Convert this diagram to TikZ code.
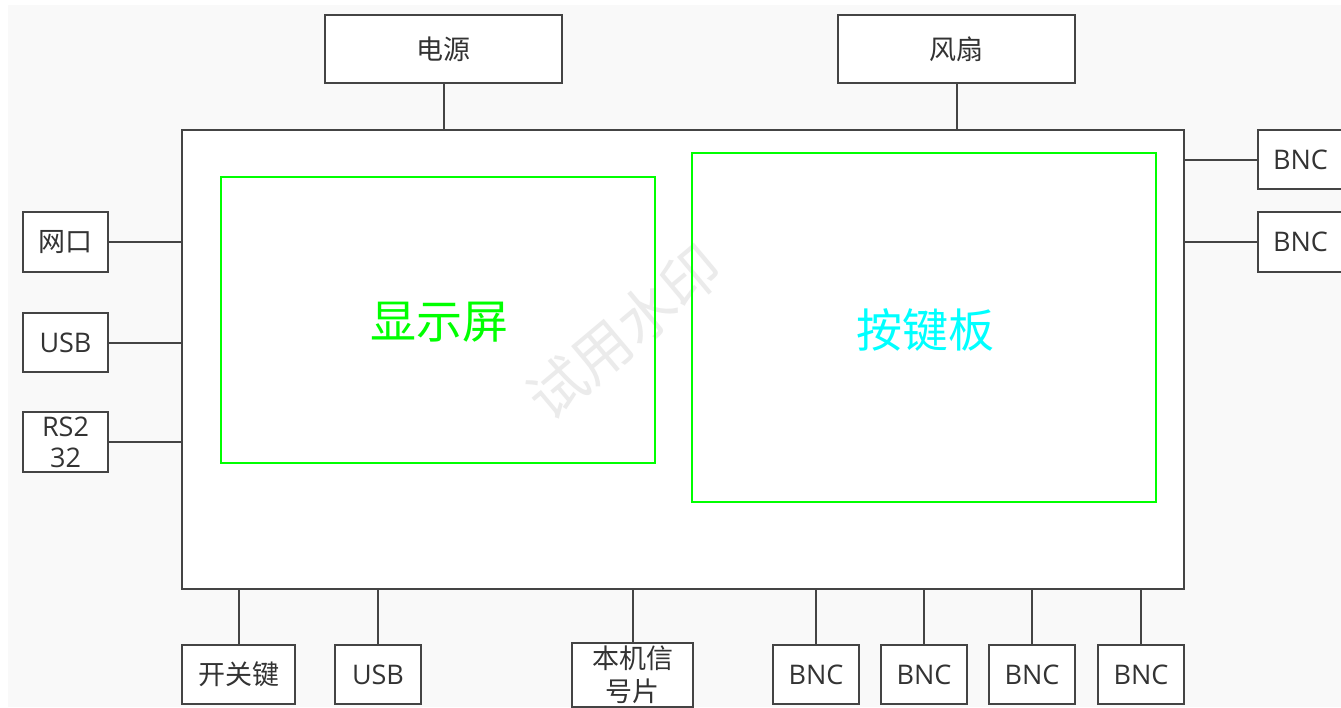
\documentclass[tikz,border=0pt]{standalone}
\usepackage{fontspec}
\setmainfont{Open Sans}
\newfontfamily\cjk{Noto Sans CJK SC}
\definecolor{linegray}{HTML}{444444}
\definecolor{textgray}{HTML}{333333}
\definecolor{bggray}{HTML}{F9F9F9}
\definecolor{screengreen}{HTML}{00FF00}
\definecolor{keycyan}{HTML}{00FFFF}
\tikzset{
  part/.style={draw=linegray, line width=2pt, fill=white, inner sep=0pt,
    align=center, text=textgray, font=\fontsize{27}{31}\selectfont},
  panel/.style={draw=screengreen, line width=2pt, inner sep=0pt},
  wire/.style={draw=linegray, line width=2pt}
}
\begin{document}
\begin{tikzpicture}[x=1pt, y=-1pt]
\useasboundingbox (0,0) rectangle (1341,707);
\fill[bggray] (8,5) rectangle (1341,707);
\node (main) at (683,359.5) [part, minimum width=1002, minimum height=459]{};
\node (mark) at (624,332) [rotate=40, text=black!8, font=\cjk\fontsize{58}{60}\selectfont]{试用水印};
\node (scr) at (438,320) [panel, minimum width=434, minimum height=286]{};
\node (keys) at (924,327.5) [panel, minimum width=464, minimum height=349]{};
\node (scrtxt) at (439,322) [text=screengreen, font=\cjk\fontsize{46}{50}\selectfont]{显示屏};
\node (keytxt) at (925,330) [text=keycyan, font=\cjk\fontsize{46}{50}\selectfont]{按键板};
% top
\node (pwr) at (443.5,49) [part, minimum width=237, minimum height=68]{\cjk 电源};
\node (fan) at (956.5,49) [part, minimum width=237, minimum height=68]{\cjk 风扇};
% left
\node (lan) at (65.5,242) [part, minimum width=85, minimum height=60]{\cjk 网口};
\node (usbl) at (65.5,342.5) [part, minimum width=85, minimum height=59]{USB};
\node (rs) at (65.5,442) [part, minimum width=85, minimum height=60]{RS2\\32};
% right
\node (bncr1) at (1300.5,159.5) [part, minimum width=85, minimum height=59]{BNC};
\node (bncr2) at (1300.5,242) [part, minimum width=85, minimum height=60]{BNC};
% bottom
\node (sw) at (238.5,674.5) [part, minimum width=113, minimum height=59]{\cjk 开关键};
\node (usbb) at (378,674.5) [part, minimum width=86, minimum height=59]{USB};
\node (sig) at (632.5,675) [part, minimum width=121, minimum height=64, font=\cjk\fontsize{27}{33}\selectfont]{\raisebox{-4pt}{本机信}\\\raisebox{-4pt}{号片}};
\node (bnc1) at (816,674.5) [part, minimum width=86, minimum height=59]{BNC};
\node (bnc2) at (924,674.5) [part, minimum width=86, minimum height=59]{BNC};
\node (bnc3) at (1032,674.5) [part, minimum width=86, minimum height=59]{BNC};
\node (bnc4) at (1141,674.5) [part, minimum width=86, minimum height=59]{BNC};
% wires
\draw[wire] (pwr.south) -- (pwr.south |- main.north);
\draw[wire] (fan.south) -- (fan.south |- main.north);
\draw[wire] (lan.east) -- (lan.east -| main.west);
\draw[wire] (usbl.east) -- (usbl.east -| main.west);
\draw[wire] (rs.east) -- (rs.east -| main.west);
\draw[wire] (bncr1.west) -- (bncr1.west -| main.east);
\draw[wire] (bncr2.west) -- (bncr2.west -| main.east);
\foreach \n in {sw,usbb,sig,bnc1,bnc2,bnc3,bnc4}
  \draw[wire] (\n.north) -- (\n.north |- main.south);
\end{tikzpicture}
\end{document}
